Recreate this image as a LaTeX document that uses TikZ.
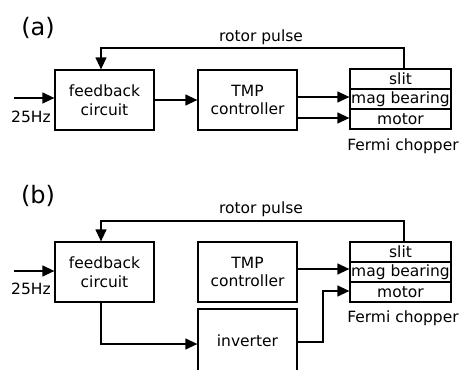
\documentclass[tikz,border=0pt]{standalone}
\usepackage{fontspec}
\setmainfont{DejaVu Sans}
\usetikzlibrary{arrows.meta}
\begin{document}
\begin{tikzpicture}[x=1pt,y=-1pt,
  every node/.style={font=\fontsize{15.5}{18.5}\selectfont, inner sep=0pt},
  blk/.style={draw, line width=1.25pt, minimum width=99pt, minimum height=60pt, align=center},
  row/.style={draw, line width=1.25pt, minimum width=101pt, minimum height=20pt},
  arr/.style={line width=1.25pt, -{Triangle[length=12pt,width=11pt]}},
  plabel/.style={font=\fontsize{24}{27}\selectfont}]
\useasboundingbox (0,0) rectangle (459,370);
\clip (0,0) rectangle (459,370);
% ---------- (a) ----------
\node[plabel] (la) at (38,28) {(a)};
\node[blk] (fa) at (104.5,100) {feedback\\circuit};
\node[blk] (ta) at (247.5,100) {TMP\\controller};
\node[row] (sa) at (400.5,79) {slit};
\node[row] (ma) at (400.5,99) {mag bearing};
\node[row] (moa) at (400.5,119) {motor};
\node (fca) at (403,146) {Fermi chopper};
\node (rpa) at (261,37) {rotor pulse};
\node (hza) at (31,117) {25Hz};
\coordinate (ina) at (14,98);
\coordinate (ra1) at (404,48);
\coordinate (ra2) at (101,48);
\coordinate (ya1) at (0,97);
\coordinate (ya2) at (0,118);
\draw[arr] (ina) -- (ina -| fa.west);
\draw[arr] (fa) -- (ta);
\draw[arr] (ta.east |- ya1) -- (ma.west |- ya1);
\draw[arr] (ta.east |- ya2) -- (moa.west |- ya2);
\draw[arr] (sa.north -| ra1) -- (ra1) -- (ra2) -- (ra2 |- fa.north);
% ---------- (b) ----------
\node[plabel] (lb) at (38,196) {(b)};
\node[blk] (fb) at (104.5,272) {feedback\\circuit};
\node[blk] (tb) at (247.5,272) {TMP\\controller};
\node[blk, minimum height=64pt] (ib) at (247.5,341) {inverter};
\node[row] (sb) at (400.5,252) {slit};
\node[row] (mb) at (400.5,272) {mag bearing};
\node[row] (mob) at (400.5,292) {motor};
\node (fcb) at (403,318) {Fermi chopper};
\node (rpb) at (261,209) {rotor pulse};
\node (hzb) at (31,289) {25Hz};
\coordinate (inb) at (14,271);
\coordinate (rb1) at (404,221);
\coordinate (rb2) at (101,221);
\coordinate (fbd) at (101,344);
\coordinate (ivk) at (323,342);
\coordinate (yb1) at (0,269);
\coordinate (yb2) at (0,291);
\draw[arr] (inb) -- (inb -| fb.west);
\draw[arr] (tb.east |- yb1) -- (mb.west |- yb1);
\draw[arr] (sb.north -| rb1) -- (rb1) -- (rb2) -- (rb2 |- fb.north);
\draw[arr] (fb.south -| fbd) -- (fbd) -- (fbd -| ib.west);
\draw[arr] (ib.east |- ivk) -- (ivk) -- (ivk |- yb2) -- (mob.west |- yb2);
\end{tikzpicture}
\end{document}
